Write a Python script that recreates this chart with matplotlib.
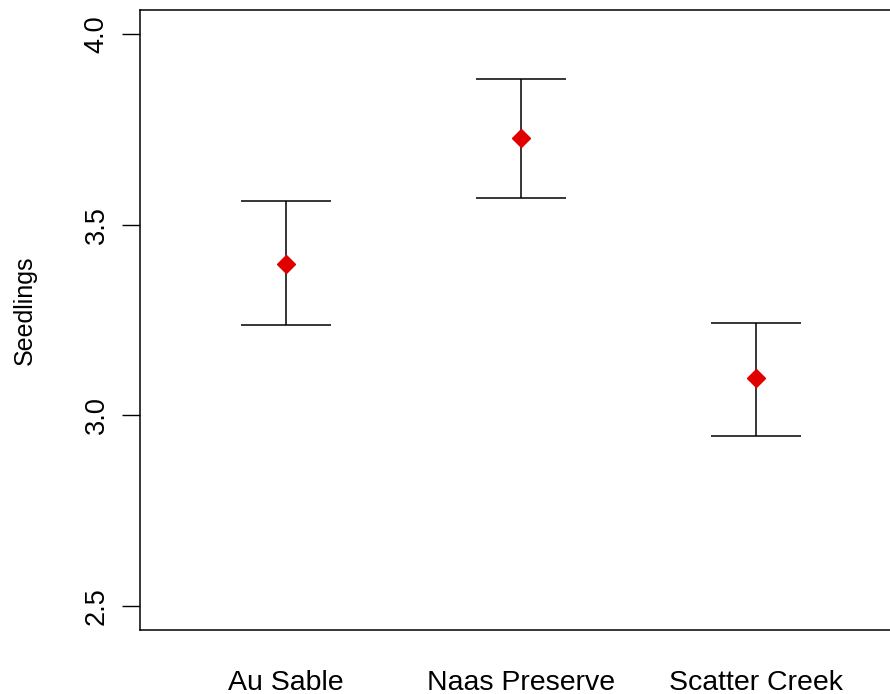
import matplotlib.pyplot as plt
import numpy as np

# Data
sites = ["Au Sable", "Naas Preserve", "Scatter Creek"]
means = [3.398, 3.726, 3.097]
lower = [3.236, 3.571, 2.947]
upper = [3.563, 3.882, 3.243]

plt.rcParams['font.family'] = ['Liberation Sans', 'DejaVu Sans']

fig = plt.figure(figsize=(8.9, 6.94), dpi=100)
ax = fig.add_axes([140 / 890, 64 / 694, 750 / 890, 620 / 694])

x = np.arange(1, len(sites) + 1)
m = np.array(means)
yerr = [m - np.array(lower), np.array(upper) - m]
ax.errorbar(x, m, yerr=yerr, fmt='none', ecolor='black', elinewidth=1.1,
            capsize=32.5, capthick=1.1)
ax.plot(x, m, linestyle='none', marker='D', color='#e00000', markersize=9.5)

ax.set_xlim(0.379, 3.57)
ax.set_ylim(2.437, 4.063)
ax.set_yticks([2.5, 3.0, 3.5, 4.0])
ax.set_yticklabels(["2.5", "3.0", "3.5", "4.0"], rotation=90, va='center')
ax.set_xticks(x)
ax.set_xticklabels(sites)
ax.tick_params(axis='x', length=0, pad=29, labelsize=20.5)
ax.tick_params(axis='y', length=13, width=1, pad=9, labelsize=19.5)
ax.set_ylabel("Seedlings", fontsize=18)
ax.yaxis.set_label_coords(-0.137, 0.515)
ax.spines['right'].set_visible(False)
for s in ['left', 'top', 'bottom']:
    ax.spines[s].set_linewidth(1.1)

fig.savefig("out.png", dpi=100)
